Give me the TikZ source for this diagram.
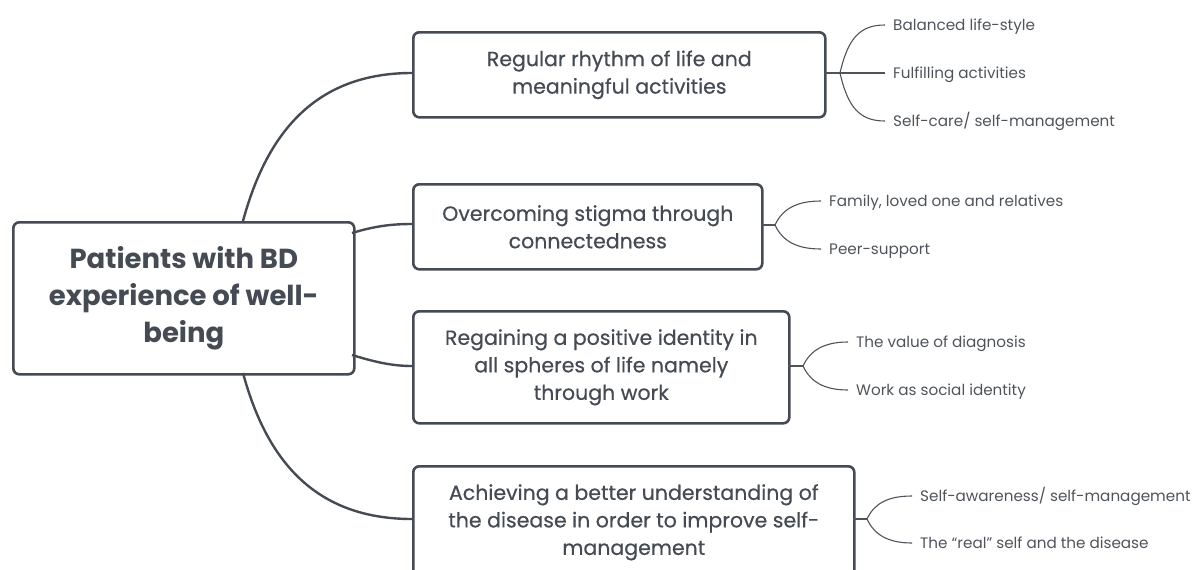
\documentclass[tikz,border=0pt]{standalone}
\usepackage{fontspec}
\setmainfont{Poppins}
\newfontfamily\medfont{Poppins}[FakeBold=0.45]
\definecolor{ink}{HTML}{454B53}
\definecolor{leafink}{HTML}{4F545B}
\tikzset{
  box/.style={draw=ink, line width=2.6pt, rounded corners=6pt, fill=white, anchor=north west, inner sep=0pt, text=ink, align=center},
  root/.style={box, font=\fontsize{27.5}{37}\selectfont\bfseries},
  theme/.style={box, font=\fontsize{20.5}{27.5}\selectfont\medfont},
  leaf/.style={anchor=base west, inner sep=0pt, text=leafink, font=\fontsize{15.2}{18}\selectfont},
  conn/.style={draw=ink, line width=2.4pt},
  twig/.style={draw=leafink, line width=1.1pt},
}
\newcommand{\tip}[1]{([shift={(-8pt,5.5pt)}]#1.base west)}
\begin{document}
\begin{tikzpicture}[x=1pt,y=-1pt]
\useasboundingbox (0,0) rectangle (1199,570);
% boxes
\node[root, minimum width=341pt, minimum height=152pt] (R) at (12,221) {Patients with BD\\experience of well-\\being};
\node[theme, minimum width=412pt, minimum height=85pt] (A) at (412,31) {Regular rhythm of life and\\meaningful activities};
\node[theme, minimum width=349pt, minimum height=85pt] (B) at (412,183) {Overcoming stigma through\\connectedness};
\node[theme, minimum width=376pt, minimum height=112pt] (C) at (412,310) {Regaining a positive identity in\\all spheres of life namely\\through work};
\node[theme, minimum width=441pt, minimum height=112pt] (D) at (412,465) {Achieving a better understanding of\\the disease in order to improve self-\\management};
% connectors from root
\coordinate (Rt) at (243,221);
\coordinate (Rb) at (243,373);
\coordinate (Rr1) at (352,233);
\coordinate (Rr2) at (352,355);
\coordinate (Al) at (412,73);
\coordinate (Bl) at (412,224);
\coordinate (Cl) at (412,366);
\coordinate (Dl) at (412,519);
\draw[conn] (Rt) .. controls (265,140) and (310,73) .. (Al);
\draw[conn] (Rb) .. controls (265,454) and (310,519) .. (Dl);
\draw[conn] (Rr1) .. controls (375,226) and (392,224) .. (Bl);
\draw[conn] (Rr2) .. controls (375,362) and (392,366) .. (Cl);
% leaves A
\coordinate (Ar) at (825,73);
\coordinate (Aj) at (840,73);
\node[leaf] (A1) at (893,30.5) {Balanced life-style};
\node[leaf] (A2) at (893,78.5) {Fulfilling activities};
\node[leaf] (A3) at (893,126.5) {Self-care/ self-management};
\draw[twig] (Ar) -- (Aj);
\draw[twig] (Aj) .. controls (848,38) and (860,25) .. \tip{A1};
\draw[twig] (Aj) -- \tip{A2};
\draw[twig] (Aj) .. controls (848,108) and (860,121) .. \tip{A3};
% leaves B
\coordinate (Br) at (761,225);
\coordinate (Bj) at (775,225);
\node[leaf] (B1) at (829,206.5) {Family, loved one and relatives};
\node[leaf] (B2) at (829,254.5) {Peer-support};
\draw[twig] (Br) -- (Bj);
\draw[twig] (Bj) .. controls (782,210) and (795,201) .. \tip{B1};
\draw[twig] (Bj) .. controls (782,240) and (795,249) .. \tip{B2};
% leaves C
\coordinate (Cr) at (788,366);
\coordinate (Cj) at (803,366);
\node[leaf] (C1) at (856,347.5) {The value of diagnosis};
\node[leaf] (C2) at (856,395.5) {Work as social identity};
\draw[twig] (Cr) -- (Cj);
\draw[twig] (Cj) .. controls (810,351) and (823,342) .. \tip{C1};
\draw[twig] (Cj) .. controls (810,381) and (823,390) .. \tip{C2};
% leaves D
\coordinate (Dr) at (853,519);
\coordinate (Dj) at (867,519);
\node[leaf] (D1) at (920,501.5) {Self-awareness/ self-management};
\node[leaf] (D2) at (920,548.5) {The “real” self and the disease};
\draw[twig] (Dr) -- (Dj);
\draw[twig] (Dj) .. controls (874,504) and (887,496) .. \tip{D1};
\draw[twig] (Dj) .. controls (874,534) and (887,543) .. \tip{D2};
\end{tikzpicture}
\end{document}
